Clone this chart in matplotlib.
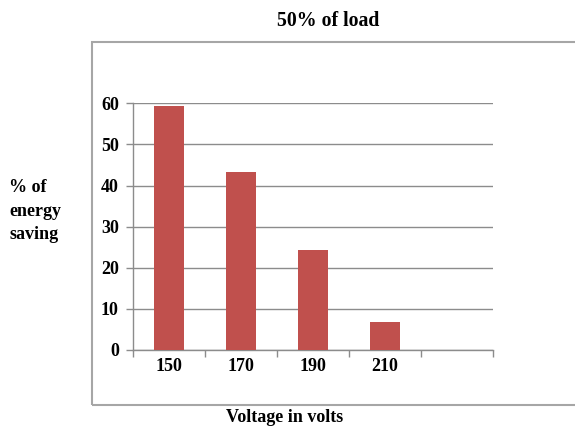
import numpy as np
import matplotlib.pyplot as plt
from matplotlib.patches import Rectangle

plt.rcParams['font.family'] = ['Liberation Serif', 'DejaVu Serif']
plt.rcParams['font.weight'] = 'bold'

# voltage categories (last slot left empty) and energy saving in %
voltage = ['150', '170', '190', '210', '']
saving = [59.3, 43.2, 24.4, 6.85, 0]

grey = '#8c8c8c'

fig = plt.figure(figsize=(5.75, 4.32), dpi=100)

# outer chart frame
frame = Rectangle((92 / 575, 1 - 405 / 432), 1.0, (405 - 42) / 432,
                  transform=fig.transFigure, fill=False,
                  edgecolor='#a6a6a6', linewidth=1.5)
fig.patches.append(frame)

ax = fig.add_axes([132.7 / 575, 1 - 350 / 432, (493 - 132.7) / 575, (350 - 103.3) / 432])

x = np.arange(len(voltage))
ax.bar(x[:4], saving[:4], width=0.41, color='#C0504D', zorder=3)

ax.set_xlim(-0.5, len(voltage) - 0.5)
ax.set_ylim(0, 60)
ax.set_yticks(np.arange(0, 61, 10))
ax.yaxis.grid(True, color=grey, linewidth=1, zorder=0)

ax.set_xticks(x)
ax.set_xticklabels(voltage, fontsize=13, fontweight='bold')
ax.set_xticks(np.arange(-0.5, len(voltage)), minor=True)
ax.tick_params(axis='x', which='major', length=0, pad=6)
ax.tick_params(axis='x', which='minor', length=5, color=grey, width=1)
ax.tick_params(axis='y', length=5, color=grey, width=1, pad=5, labelsize=13)

for side in ['top', 'right']:
    ax.spines[side].set_visible(False)
for side in ['left', 'bottom']:
    ax.spines[side].set_color(grey)
    ax.spines[side].set_linewidth(1)

fig.text(328 / 575, 1 - 21 / 432, '50% of load', ha='center', va='center',
         fontsize=14.3, fontweight='bold')
fig.text(9 / 575, 1 - 211 / 432, '% of\nenergy\nsaving', ha='left', va='center',
         fontsize=13, fontweight='bold', linespacing=1.5)
fig.text(285 / 575, 1 - 418 / 432, 'Voltage in volts', ha='center', va='center',
         fontsize=13, fontweight='bold')

fig.savefig('out.png', dpi=100)
